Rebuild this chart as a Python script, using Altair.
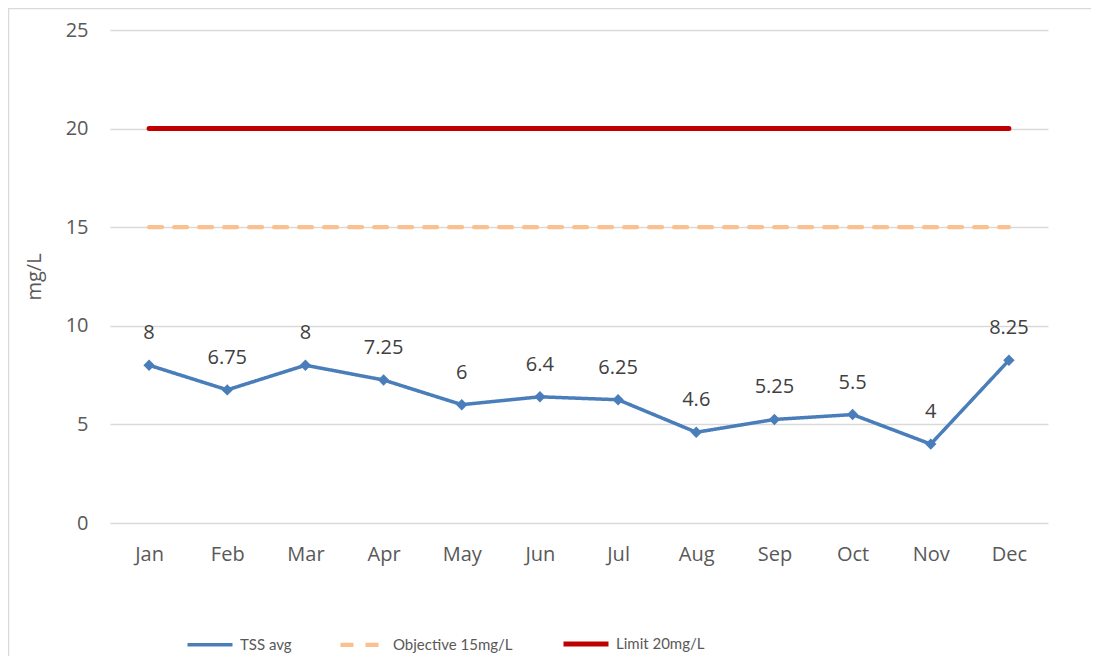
import altair as alt
import pandas as pd

months = ["Jan", "Feb", "Mar", "Apr", "May", "Jun", "Jul", "Aug", "Sep", "Oct", "Nov", "Dec"]
tss_avg = [8, 6.75, 8, 7.25, 6, 6.4, 6.25, 4.6, 5.25, 5.5, 4, 8.25]
objective = [15, 15, 15, 15, 15, 15, 15, 15, 15, 15, 15, 15]
limit = [20, 20, 20, 20, 20, 20, 20, 20, 20, 20, 20, 20]
series_names = ["TSS avg", "Objective 15mg/L", "Limit 20mg/L"]
series_colors = ["#4A7EBB", "#FAC090", "#C00000"]
series_dash = [[1, 0], [13, 12], [1, 0]]
series_width = [3.5, 5, 6]
y_ticks = [0, 5, 10, 15, 20, 25]

rows = []
for name, vals in zip(series_names, [tss_avg, objective, limit]):
    for m, v in zip(months, vals):
        rows.append({"month": m, "value": v, "series": name})
df = pd.DataFrame(rows)
tss_df = pd.DataFrame({"month": months, "value": tss_avg})

FONT = "Open Sans"
x_enc = alt.X("month:N", sort=months, title=None,
              scale=alt.Scale(paddingInner=0, paddingOuter=0),
              axis=alt.Axis(labelAngle=0, labelFontSize=20, labelColor="#595959",
                            labelFont=FONT, ticks=False, domain=False, grid=False,
                            labelPadding=21))
y_enc_axis = alt.Y("value:Q", title="mg/L",
                   scale=alt.Scale(domain=[0, 25], nice=False),
                   axis=alt.Axis(values=y_ticks, labelFontSize=20, labelColor="#595959",
                                 labelFont=FONT, ticks=False, domain=False,
                                 gridColor="#D9D9D9", gridWidth=1.5, labelPadding=22,
                                 titleFont=FONT, titleFontSize=20, titleColor="#595959",
                                 titleFontWeight="normal", titlePadding=21))

frame = alt.Chart(pd.DataFrame({"f": [0]})).mark_rect(
    fill=None, stroke="#D9D9D9", strokeWidth=1.5
).encode(x=alt.value(-101.5), y=alt.value(-21.5), x2=alt.value(1300), y2=alt.value(900))

lines = alt.Chart(df).mark_line(strokeCap="round", strokeJoin="round").encode(
    x=x_enc,
    y=y_enc_axis,
    color=alt.Color("series:N", scale=alt.Scale(domain=series_names, range=series_colors),
                    title=None,
                    legend=alt.Legend(orient="none", legendX=75, legendY=589,
                                      direction="horizontal", columns=3,
                                      symbolType="stroke", symbolSize=2025,
                                      labelFont="Lato", labelFontSize=15,
                                      labelColor="#595959", labelOffset=5,
                                      columnPadding=40, gridAlign="each",
                                      symbolStrokeWidth=5)),
    strokeDash=alt.StrokeDash("series:N", scale=alt.Scale(domain=series_names, range=series_dash),
                              title=None, legend=None),
    strokeWidth=alt.StrokeWidth("series:N", scale=alt.Scale(domain=series_names, range=series_width),
                                title=None, legend=None),
    detail="series:N",
)

points = alt.Chart(tss_df).mark_point(shape="diamond", filled=True, size=130,
                                      color="#4A7EBB", opacity=1).encode(
    x=alt.X("month:N", sort=months),
    y=alt.Y("value:Q"),
)

labels = alt.Chart(tss_df).mark_text(font=FONT, fontSize=20, color="#404040",
                                     dy=-32).encode(
    x=alt.X("month:N", sort=months),
    y=alt.Y("value:Q"),
    text=alt.Text("value:Q"),
)

chart = alt.layer(frame, lines, points, labels).properties(
    width=938, height=493,
    autosize=alt.AutoSizeParams(type="none"),
    padding={"left": 102, "top": 22, "right": 43, "bottom": 133},
).configure_view(stroke=None)

chart.save("out.html", embed_options={"renderer": "svg", "actions": False})
